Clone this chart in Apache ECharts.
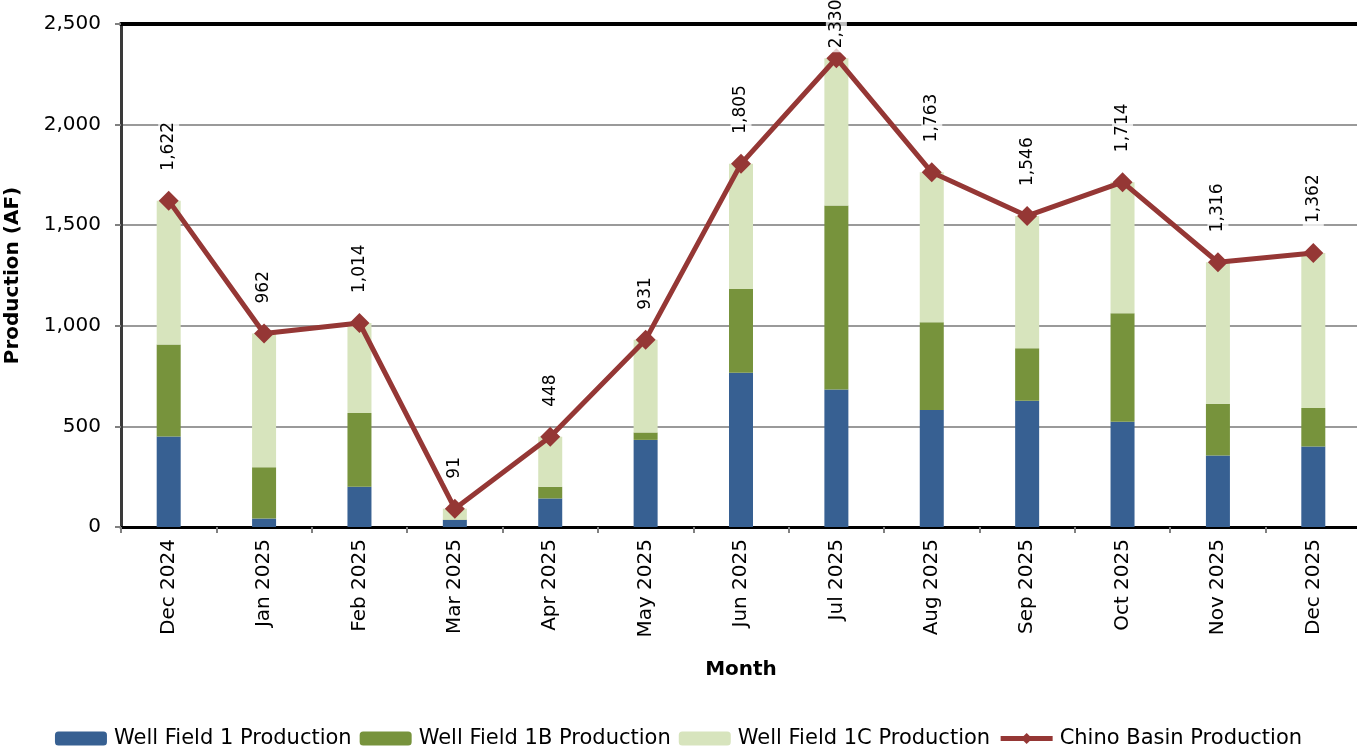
<!DOCTYPE html>
<html>
<head>
<meta charset="utf-8">
<script src="https://cdn.jsdelivr.net/npm/echarts@6/dist/echarts.min.js"></script>
<style>
html,body{margin:0;padding:0;background:#fff;}
#chart{width:1357px;height:756px;}
</style>
</head>
<body>
<div id="chart"></div>
<script>
const months = ['Dec 2024','Jan 2025','Feb 2025','Mar 2025','Apr 2025','May 2025','Jun 2025','Jul 2025','Aug 2025','Sep 2025','Oct 2025','Nov 2025','Dec 2025'];
const wellField1 = [450, 42, 200, 35, 142, 433, 767, 683, 582, 627, 523, 355, 400];
const wellField1B = [457, 255, 367, 2, 58, 37, 416, 915, 436, 261, 539, 258, 192];
const wellField1C = [715, 665, 447, 54, 248, 461, 622, 732, 745, 658, 652, 703, 770];
const chinoBasin = [1622, 962, 1014, 91, 448, 931, 1805, 2330, 1763, 1546, 1714, 1316, 1362];
const yTicks = [0, 500, 1000, 1500, 2000, 2500];

const FONT = '"DejaVu Sans", sans-serif';
const fmt = v => v.toLocaleString('en-US');
const yMax = yTicks[yTicks.length-1];

const chart = echarts.init(document.getElementById('chart'), null, {renderer:'canvas'});
chart.setOption({
  animation: false,
  textStyle: {fontFamily: FONT, color: '#000'},
  grid: {left: 121, top: 24, right: -4, bottom: 229, containLabel: false, outerBoundsMode: 'none'},
  legend: {
    bottom: 2, left: 'center',
    itemWidth: 52, itemHeight: 14, itemGap: 8,
    textStyle: {fontFamily: FONT, fontSize: 21, color: '#000', padding: [0,0,0,2]},
    data: [
      {name: 'Well Field 1 Production'},
      {name: 'Well Field 1B Production'},
      {name: 'Well Field 1C Production'},
      {name: 'Chino Basin Production', lineStyle: {width: 5, color: '#953735'}, itemStyle: {color: '#953735'}}
    ]
  },
  xAxis: [{
    type: 'category', data: months, boundaryGap: true,
    name: 'Month', nameLocation: 'middle', nameGap: 133,
    nameTextStyle: {fontFamily: FONT, fontSize: 20, fontWeight: 'bold', color: '#000'},
    axisLine: {show: true, lineStyle: {color: '#000', width: 3}},
    axisTick: {show: true, alignWithLabel: false, length: 6, lineStyle: {color: '#808080', width: 2}},
    axisLabel: {rotate: 90, fontSize: 20, color: '#000', margin: 12, fontFamily: FONT},
    splitLine: {show: false}
  },{
    type: 'category', data: months, position: 'top',
    axisLine: {show: true, lineStyle: {color: '#000', width: 4}},
    axisTick: {show: false}, axisLabel: {show: false}, splitLine: {show: false}
  }],
  yAxis: {
    type: 'value', min: yTicks[0], max: yMax, interval: 500,
    name: 'Production (AF)', nameLocation: 'middle', nameGap: 98,
    nameTextStyle: {fontFamily: FONT, fontSize: 20, fontWeight: 'bold', color: '#000'},
    axisLine: {show: true, lineStyle: {color: '#3a3a3a', width: 3}},
    axisTick: {show: true, length: 6, lineStyle: {color: '#808080', width: 2}},
    axisLabel: {fontSize: 20, color: '#000', margin: 20, fontFamily: FONT, formatter: v => fmt(v)},
    splitLine: {show: true, lineStyle: {color: '#9a9a9a', width: 2}}
  },
  series: [
    {name: 'Well Field 1 Production', type: 'bar', stack: 'p', barWidth: 24, data: wellField1,
     itemStyle: {color: '#376092'}},
    {name: 'Well Field 1B Production', type: 'bar', stack: 'p', barWidth: 24, data: wellField1B,
     itemStyle: {color: '#77933C'}},
    {name: 'Well Field 1C Production', type: 'bar', stack: 'p', barWidth: 24, data: wellField1C,
     itemStyle: {color: '#D7E4BD'}},
    {name: 'Chino Basin Production', type: 'line', z: 5,
     data: chinoBasin.map(v => v > yMax * 0.88 ? {value: v, label: {distance: -4}} : v),
     symbol: 'diamond', symbolSize: 20,
     lineStyle: {color: '#953735', width: 5},
     itemStyle: {color: '#953735'},
     label: {show: true, position: 'top', distance: 16, rotate: 90, align: 'left', verticalAlign: 'middle',
       fontSize: 17, color: '#000', fontFamily: FONT,
       backgroundColor: 'rgba(255,255,255,0.75)', padding: [2, 4],
       formatter: p => fmt(p.value)}
    }
  ]
});
</script>
</body>
</html>
